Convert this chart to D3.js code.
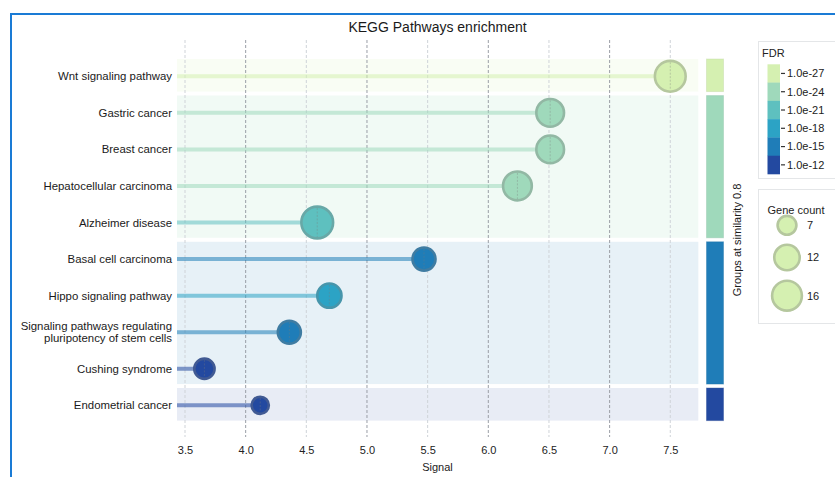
<!DOCTYPE html>
<html>
<head>
<meta charset="utf-8">
<script src="https://cdn.jsdelivr.net/npm/d3@7"></script>
<style>
  html, body { margin: 0; padding: 0; background: #fff; }
  svg { display: block; font-family: "Liberation Sans", Arial, Helvetica, sans-serif; }
</style>
</head>
<body>
<svg id="chart" width="835" height="477"></svg>
<script>
// Enriched KEGG pathways, top to bottom
const pathways = [
  "Wnt signaling pathway",
  "Gastric cancer",
  "Breast cancer",
  "Hepatocellular carcinoma",
  "Alzheimer disease",
  "Basal cell carcinoma",
  "Hippo signaling pathway",
  "Signaling pathways regulating pluripotency of stem cells",
  "Cushing syndrome",
  "Endometrial cancer"
];
const signal = [7.50, 6.51, 6.51, 6.24, 4.59, 5.47, 4.69, 4.36, 3.66, 4.12];
const fdr = [2e-28, 6e-25, 6e-25, 3e-24, 4e-22, 2e-16, 3e-19, 1e-16, 2e-13, 4e-13];
const geneCount = [17, 14, 14, 15, 18, 10, 11, 10, 8, 6];
const group = [0, 1, 1, 1, 1, 2, 2, 2, 2, 3];
const groupFdr = [2e-28, 6e-25, 1e-16, 2e-13];

const xTicks = [3.5, 4.0, 4.5, 5.0, 5.5, 6.0, 6.5, 7.0, 7.5];
const fdrLegendTicks = [1e-27, 1e-24, 1e-21, 1e-18, 1e-15, 1e-12];
const countLegend = [7, 12, 16];
const palette = ["#d5f0b1", "#9fd9bb", "#5ec0bf", "#2ca3c5", "#1f7db8", "#2349a0"];

const svg = d3.select("#chart");

// outer panel frame
svg.append("path")
  .attr("d", "M11,477 L11,14 L836,14")
  .attr("fill", "none").attr("stroke", "#1a7bd5").attr("stroke-width", 2);

const x = d3.scaleLinear().domain([3.434, 7.731]).range([177, 698.3]);
const y = d3.scaleBand().domain(pathways).range([58, 423.6]);
const color = d3.scaleQuantize().domain([-28.5, -10.5]).range(palette);
const fdrColor = v => color(Math.log10(v));
const r = d3.scaleSqrt().domain([0, 16]).range([0, 16.2]);
const strokeOf = c => d3.interpolateRgb(c, "#7a7a7a")(0.35);

// title
svg.append("text")
  .attr("x", 437.5).attr("y", 32)
  .attr("text-anchor", "middle").attr("font-size", 14).attr("fill", "#1a1a1a")
  .text("KEGG Pathways enrichment");

// group spans
const groups = d3.groups(pathways.map((p, i) => ({ p, i, g: group[i] })), d => d.g)
  .map(([g, rows]) => ({
    g,
    y0: y(rows[0].p) + 1,
    y1: y(rows[rows.length - 1].p) + y.bandwidth() - 3,
    c: fdrColor(groupFdr[g])
  }));

svg.append("g").selectAll("rect").data(groups).join("rect")
  .attr("x", x.range()[0]).attr("width", x.range()[1] - x.range()[0])
  .attr("y", d => d.y0).attr("height", d => d.y1 - d.y0)
  .attr("fill", d => d.c).attr("fill-opacity", d => d.g < 2 ? 0.14 : 0.105);

// vertical grid
svg.append("g").selectAll("line").data(xTicks).join("line")
  .attr("x1", d => x(d)).attr("x2", d => x(d))
  .attr("y1", 40).attr("y2", 437)
  .attr("stroke", d => Number.isInteger(d) ? "#9a9ea6" : "#cfd3d8")
  .attr("stroke-width", 1)
  .attr("stroke-dasharray", "3,2");

// x axis tick labels
const xAxis = d3.axisBottom(x).tickValues(xTicks).tickFormat(d3.format(".1f")).tickSize(0).tickPadding(0);
const gx = svg.append("g").attr("transform", "translate(0,446)").call(xAxis);
gx.select(".domain").remove();
gx.selectAll("text").attr("font-size", 11).attr("fill", "#222")
  .attr("font-family", "Liberation Sans, Arial, sans-serif");

svg.append("text")
  .attr("x", 437.5).attr("y", 471)
  .attr("text-anchor", "middle").attr("font-size", 11).attr("fill", "#222")
  .text("Signal");

// pathway labels
const labels = svg.append("g").selectAll("text").data(pathways).join("text")
  .attr("x", 172)
  .attr("text-anchor", "end").attr("font-size", 11.4).attr("fill", "#1a1a1a");
labels.each(function (d) {
  const t = d3.select(this);
  const yc = y(d) + y.bandwidth() / 2;
  if (d.length > 35) {
    const lines = ["Signaling pathways regulating", "pluripotency of stem cells"];
    lines.forEach((ln, k) => {
      t.append("tspan").attr("x", 172).attr("y", yc - 6.2 + k * 12.4).attr("dy", "0.35em").text(ln);
    });
  } else {
    t.attr("y", yc).attr("dy", "0.35em").text(d);
  }
});

// lollipop stems
const rows = pathways.map((p, i) => ({ p, v: signal[i], c: fdrColor(fdr[i]), n: geneCount[i] }));
svg.append("g").selectAll("line").data(rows).join("line")
  .attr("x1", x.range()[0]).attr("x2", d => x(d.v))
  .attr("y1", d => y(d.p) + y.bandwidth() / 2).attr("y2", d => y(d.p) + y.bandwidth() / 2)
  .attr("stroke", d => d.c).attr("stroke-opacity", 0.55).attr("stroke-width", 4);

// heads
const heads = svg.append("g").selectAll("g").data(rows).join("g")
  .attr("transform", d => `translate(${x(d.v)},${y(d.p) + y.bandwidth() / 2})`);
heads.append("circle")
  .attr("r", d => r(d.n) - 1.3)
  .attr("fill", d => d.c)
  .attr("stroke", d => strokeOf(d.c)).attr("stroke-width", 2.6);
heads.append("line")
  .attr("y1", d => -(r(d.n) - 2.6)).attr("y2", d => r(d.n) - 2.6)
  .attr("stroke", d => strokeOf(d.c)).attr("stroke-width", 1)
  .attr("stroke-dasharray", "2,1.5");

// group colour strip
svg.append("g").selectAll("rect").data(groups).join("rect")
  .attr("x", 706.5).attr("width", 17)
  .attr("y", d => d.y0).attr("height", d => d.y1 - d.y0)
  .attr("fill", d => d.c)
  .attr("stroke", d => d3.color(d.c).darker(0.3)).attr("stroke-opacity", 0.4).attr("stroke-width", 1);

svg.append("text")
  .attr("transform", "translate(741,240) rotate(-90)")
  .attr("text-anchor", "middle").attr("font-size", 11).attr("fill", "#1a1a1a")
  .text("Groups at similarity 0.8");

// FDR legend
const lg = svg.append("g");
lg.append("rect").attr("x", 758.5).attr("y", 41.5).attr("width", 90).attr("height", 137)
  .attr("fill", "#fff").attr("stroke", "#e4e6e8");
lg.append("text").attr("x", 762).attr("y", 57).attr("font-size", 11).attr("fill", "#222").text("FDR");
const sw = d3.scaleBand().domain(fdrLegendTicks).range([64.3, 174]);
lg.selectAll("rect.sw").data(fdrLegendTicks).join("rect").attr("class", "sw")
  .attr("x", 767.5).attr("width", 12.5)
  .attr("y", d => sw(d)).attr("height", sw.bandwidth() + 0.3)
  .attr("fill", d => fdrColor(d));
lg.selectAll("line.tk").data(fdrLegendTicks).join("line").attr("class", "tk")
  .attr("x1", 781).attr("x2", 785)
  .attr("y1", d => sw(d) + sw.bandwidth() / 2).attr("y2", d => sw(d) + sw.bandwidth() / 2)
  .attr("stroke", "#333").attr("stroke-width", 1.2);
lg.selectAll("text.tl").data(fdrLegendTicks).join("text").attr("class", "tl")
  .attr("x", 787).attr("y", d => sw(d) + sw.bandwidth() / 2).attr("dy", "0.35em")
  .attr("font-size", 11).attr("fill", "#222")
  .text(d => d.toExponential(1));

// gene count legend
const cg = svg.append("g");
cg.append("rect").attr("x", 758.5).attr("y", 189.5).attr("width", 90).attr("height", 134)
  .attr("fill", "#fff").attr("stroke", "#e4e6e8");
cg.append("text").attr("x", 796).attr("y", 214).attr("text-anchor", "middle")
  .attr("font-size", 11).attr("fill", "#222").text("Gene count");
const cy = [225.3, 257.5, 295.7];
const legendFill = palette[0];
countLegend.forEach((n, k) => {
  cg.append("circle").attr("cx", 787).attr("cy", cy[k]).attr("r", r(n) - 1.3)
    .attr("fill", legendFill).attr("stroke", strokeOf(legendFill)).attr("stroke-width", 2.6);
  cg.append("text").attr("x", 807).attr("y", cy[k]).attr("dy", "0.35em")
    .attr("font-size", 11).attr("fill", "#222").text(n);
});
</script>
</body>
</html>
